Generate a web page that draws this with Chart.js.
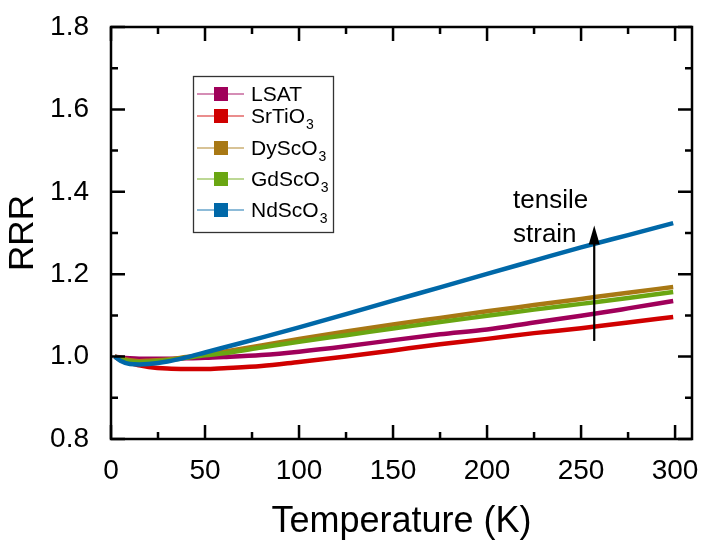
<!DOCTYPE html>
<html>
<head>
<meta charset="utf-8">
<script src="https://cdn.jsdelivr.net/npm/chart.js@4.4.1/dist/chart.umd.min.js"></script>
<style>
  html, body { margin: 0; padding: 0; background: #fff; }
  #wrap { width: 702px; height: 542px; }
</style>
</head>
<body>
<div id="wrap"><canvas id="rrrChart" width="702" height="542"></canvas></div>
<script>
// Temperatures (K) where each curve is sampled
const temps = [2, 5, 10, 15, 20, 30, 40, 50, 60, 80, 100, 125, 150, 175, 200, 225, 250, 275, 299];

// RRR = R(T)/R(2K) for each substrate
const lsat    = [1.000, 0.998, 0.996, 0.995, 0.995, 0.995, 0.996, 0.997, 0.999, 1.004, 1.012, 1.025, 1.040, 1.054, 1.066, 1.083, 1.099, 1.117, 1.135];
const srtio3  = [1.000, 0.992, 0.984, 0.979, 0.975, 0.971, 0.970, 0.970, 0.972, 0.977, 0.987, 1.000, 1.015, 1.030, 1.043, 1.057, 1.069, 1.083, 1.096];
const dyscO3  = [1.000, 0.996, 0.991, 0.989, 0.990, 0.993, 0.999, 1.005, 1.012, 1.027, 1.043, 1.061, 1.078, 1.094, 1.110, 1.125, 1.140, 1.155, 1.169];
const gdscO3  = [1.000, 0.994, 0.988, 0.986, 0.987, 0.991, 0.997, 1.003, 1.008, 1.022, 1.036, 1.052, 1.068, 1.084, 1.099, 1.114, 1.128, 1.142, 1.157];
const ndscO3  = [1.000, 0.990, 0.982, 0.981, 0.982, 0.988, 0.998, 1.010, 1.022, 1.046, 1.071, 1.103, 1.136, 1.168, 1.201, 1.233, 1.265, 1.295, 1.324];

const names  = ['LSAT', 'SrTiO3', 'DyScO3', 'GdScO3', 'NdScO3'];
const series = [lsat, srtio3, dyscO3, gdscO3, ndscO3];
const colors = ['#a0005a', '#d00000', '#a87814', '#6aa612', '#0068a8'];

const xTicks = [0, 50, 100, 150, 200, 250, 300];
const yTicks = [0.8, 1.0, 1.2, 1.4, 1.6, 1.8];

// arrow for the "tensile strain" note, in data units
const arrowT = 257;
const arrowFrom = 1.038;
const arrowTo = 1.318;

const FONT = '"Liberation Sans", Arial, sans-serif';

const datasets = series.map((vals, i) => ({
    label: names[i],
    data: vals.map((v, j) => ({ x: temps[j], y: v })),
    borderColor: colors[i],
    backgroundColor: colors[i],
    borderWidth: 4.5,
    pointRadius: 0,
    cubicInterpolationMode: 'monotone',
    order: series.length - i
}));

// boxed frame with inward major/minor ticks on all four sides
const frameTicks = {
    id: 'frameTicks',
    afterDatasetsDraw(chart) {
        const { ctx, chartArea: a, scales: { x, y } } = chart;
        ctx.save();
        ctx.strokeStyle = '#000';
        ctx.lineWidth = 2.5;
        ctx.lineCap = 'square';
        ctx.strokeRect(a.left, a.top, a.right - a.left, a.bottom - a.top);
        ctx.beginPath();
        for (let t = 0; t <= 300; t += 25) {
            const px = x.getPixelForValue(t);
            const len = t % 50 === 0 ? 14 : 7;
            ctx.moveTo(px, a.bottom); ctx.lineTo(px, a.bottom - len);
            ctx.moveTo(px, a.top); ctx.lineTo(px, a.top + len);
        }
        for (let k = 8; k <= 18; k++) {
            const py = y.getPixelForValue(k / 10);
            const len = k % 2 === 0 ? 14 : 7;
            ctx.moveTo(a.left, py); ctx.lineTo(a.left + len, py);
            ctx.moveTo(a.right, py); ctx.lineTo(a.right - len, py);
        }
        ctx.lineCap = 'butt';
        ctx.stroke();
        ctx.restore();
    }
};

// text with an optional trailing subscript digit, e.g. SrTiO3
function drawChem(ctx, name, x0, baseY, size) {
    const m = name.match(/^(.*?)(\d)$/);
    ctx.font = size + 'px ' + FONT;
    ctx.textBaseline = 'alphabetic';
    ctx.textAlign = 'left';
    if (!m) { ctx.fillText(name, x0, baseY); return; }
    ctx.fillText(m[1], x0, baseY);
    const w = ctx.measureText(m[1]).width;
    ctx.font = Math.round(size * 0.68) + 'px ' + FONT;
    ctx.fillText(m[2], x0 + w + 1, baseY + 6);
}

const legendAndNote = {
    id: 'legendAndNote',
    afterDraw(chart) {
        const { ctx, scales: { x, y } } = chart;
        ctx.save();
        // legend box
        ctx.strokeStyle = '#333';
        ctx.lineWidth = 1.3;
        ctx.strokeRect(193.5, 76.5, 140, 156);
        const rows = [94, 116, 148, 179, 210];
        rows.forEach((cy, i) => {
            ctx.globalAlpha = 0.6;
            ctx.strokeStyle = colors[i];
            ctx.lineWidth = 1.6;
            ctx.beginPath();
            ctx.moveTo(197, cy); ctx.lineTo(244, cy);
            ctx.stroke();
            ctx.globalAlpha = 1;
            ctx.fillStyle = colors[i];
            ctx.fillRect(214, cy - 7, 14, 14);
            ctx.fillStyle = '#000';
            drawChem(ctx, names[i], 251, cy + 7, 21);
        });

        // tensile strain arrow
        const ax = x.getPixelForValue(arrowT);
        const y0 = y.getPixelForValue(arrowFrom);
        const y1 = y.getPixelForValue(arrowTo);
        ctx.strokeStyle = '#000';
        ctx.fillStyle = '#000';
        ctx.lineWidth = 2.2;
        ctx.beginPath();
        ctx.moveTo(ax, y0); ctx.lineTo(ax, y1 + 15);
        ctx.stroke();
        ctx.beginPath();
        ctx.moveTo(ax, y1);
        ctx.lineTo(ax - 5.5, y1 + 19);
        ctx.lineTo(ax + 5.5, y1 + 19);
        ctx.closePath();
        ctx.fill();

        ctx.font = '26px ' + FONT;
        ctx.textAlign = 'left';
        ctx.textBaseline = 'alphabetic';
        ctx.fillText('tensile', 513, 208);
        ctx.fillText('strain', 513, 242);
        ctx.restore();
    }
};

new Chart(document.getElementById('rrrChart'), {
    type: 'line',
    data: { datasets },
    plugins: [frameTicks, legendAndNote],
    options: {
        responsive: false,
        animation: false,
        devicePixelRatio: 1,
        layout: { padding: { top: 27, right: 10, left: 0, bottom: 0 } },
        plugins: { legend: { display: false }, tooltip: { enabled: false } },
        scales: {
            x: {
                type: 'linear',
                min: 0,
                max: 309,
                afterBuildTicks: s => { s.ticks = xTicks.map(v => ({ value: v })); },
                afterFit: s => { s.height = 103; s.paddingLeft = 0; s.paddingRight = 0; },
                grid: { display: false },
                border: { display: false },
                ticks: { color: '#000', font: { family: FONT, size: 28 }, padding: 7, maxRotation: 0 },
                title: {
                    display: true, text: 'Temperature (K)', color: '#000',
                    font: { family: FONT, size: 36, lineHeight: 1 }, padding: { top: 0, bottom: 2 }
                }
            },
            y: {
                min: 0.8,
                max: 1.8,
                afterBuildTicks: s => { s.ticks = yTicks.map(v => ({ value: v })); },
                afterFit: s => { s.width = 111; s.paddingTop = 0; s.paddingBottom = 0; },
                grid: { display: false },
                border: { display: false },
                ticks: { color: '#000', font: { family: FONT, size: 28 }, padding: 14, callback: v => v.toFixed(1) },
                title: {
                    display: true, text: 'RRR', color: '#000',
                    font: { family: FONT, size: 35, lineHeight: 1 }, padding: { top: 6, bottom: 0 }
                }
            }
        }
    }
});
</script>
</body>
</html>
